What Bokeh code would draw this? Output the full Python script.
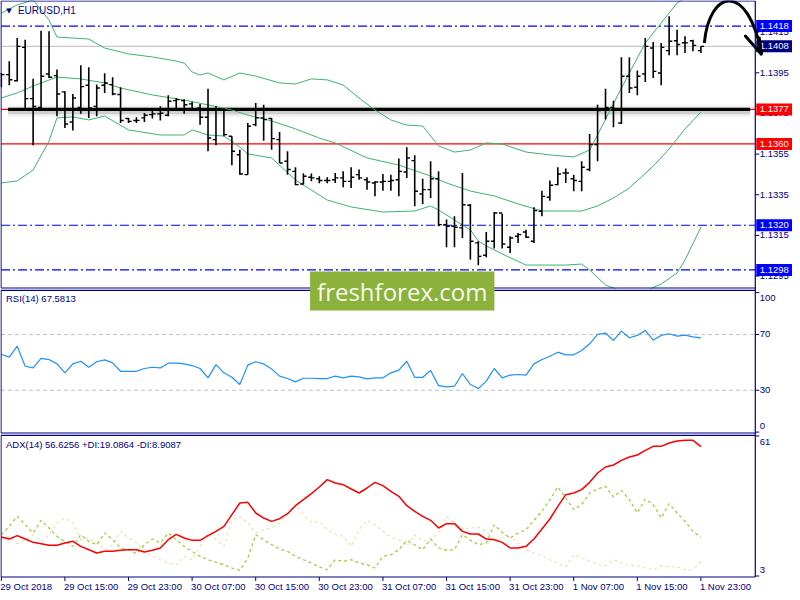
import numpy as np
from bokeh.plotting import figure
from bokeh.models import Range1d, Label
from bokeh.embed import file_html
from bokeh.resources import INLINE
from bokeh.core.properties import value

# ---------------- data (EURUSD H1) ----------------
open_ = [1.13946, 1.13941, 1.13911, 1.14075, 1.13823, 1.13780, 1.13944, 1.13936, 1.13856, 1.13708,
         1.13780, 1.13889, 1.13785, 1.13889, 1.13892, 1.13843, 1.13725, 1.13715, 1.13728, 1.13744,
         1.13748, 1.13741, 1.13813, 1.13813, 1.13797, 1.13777, 1.13731, 1.13621, 1.13769, 1.13638,
         1.13547, 1.13449, 1.13695, 1.13728, 1.13725, 1.13621, 1.13515, 1.13465, 1.13403, 1.13436,
         1.13429, 1.13420, 1.13424, 1.13433, 1.13416, 1.13449, 1.13424, 1.13408, 1.13413, 1.13416,
         1.13424, 1.13462, 1.13518, 1.13354, 1.13375, 1.13429, 1.13203, 1.13195, 1.13187, 1.13298,
         1.13113, 1.13052, 1.13121, 1.13260, 1.13092, 1.13146, 1.13167, 1.13121, 1.13269, 1.13338,
         1.13400, 1.13457, 1.13429, 1.13416, 1.13474, 1.13597, 1.13769, 1.13780, 1.13703, 1.13933,
         1.13879, 1.13944, 1.14072, 1.13949, 1.14059, 1.14108, 1.14098, 1.14108, 1.14059]
high = [1.13949, 1.14007, 1.14121, 1.14112, 1.13921, 1.14157, 1.14154, 1.13966, 1.13859, 1.13846,
        1.13987, 1.13977, 1.13892, 1.13948, 1.13928, 1.13879, 1.13728, 1.13731, 1.13752, 1.13777,
        1.13785, 1.13839, 1.13826, 1.13820, 1.13807, 1.13797, 1.13872, 1.13785, 1.13777, 1.13638,
        1.13572, 1.13703, 1.13802, 1.13793, 1.13728, 1.13659, 1.13564, 1.13485, 1.13456, 1.13454,
        1.13441, 1.13436, 1.13457, 1.13465, 1.13485, 1.13474, 1.13436, 1.13416, 1.13452, 1.13449,
        1.13528, 1.13584, 1.13544, 1.13429, 1.13515, 1.13465, 1.13228, 1.13244, 1.13457, 1.13305,
        1.13121, 1.13167, 1.13265, 1.13256, 1.13146, 1.13162, 1.13178, 1.13288, 1.13370, 1.13420,
        1.13485, 1.13479, 1.13449, 1.13515, 1.13649, 1.13793, 1.13872, 1.13813, 1.14026, 1.14026,
        1.13961, 1.14121, 1.14102, 1.14097, 1.14228, 1.14162, 1.14130, 1.14113, 1.14080]
low = [1.13879, 1.13889, 1.13908, 1.13774, 1.13593, 1.13777, 1.13925, 1.13736, 1.13679, 1.13666,
       1.13748, 1.13728, 1.13736, 1.13851, 1.13839, 1.13703, 1.13703, 1.13703, 1.13708, 1.13725,
       1.13715, 1.13736, 1.13777, 1.13748, 1.13764, 1.13695, 1.13564, 1.13593, 1.13638, 1.13495,
       1.13449, 1.13449, 1.13687, 1.13616, 1.13572, 1.13506, 1.13449, 1.13397, 1.13400, 1.13416,
       1.13406, 1.13406, 1.13408, 1.13387, 1.13383, 1.13424, 1.13375, 1.13342, 1.13370, 1.13370,
       1.13342, 1.13433, 1.13293, 1.13305, 1.13334, 1.13195, 1.13092, 1.13092, 1.13137, 1.13031,
       1.13003, 1.13042, 1.13085, 1.13085, 1.13064, 1.13113, 1.13137, 1.13113, 1.13244, 1.13321,
       1.13397, 1.13408, 1.13367, 1.13367, 1.13465, 1.13515, 1.13720, 1.13682, 1.13698, 1.13851,
       1.13839, 1.13905, 1.13925, 1.13889, 1.14036, 1.14036, 1.14048, 1.14056, 1.14048]
close = [1.13941, 1.13916, 1.14080, 1.13823, 1.13784, 1.13933, 1.13928, 1.13846, 1.13698, 1.13826,
         1.13882, 1.13777, 1.13875, 1.13900, 1.13846, 1.13715, 1.13711, 1.13716, 1.13741, 1.13748,
         1.13751, 1.13810, 1.13818, 1.13793, 1.13770, 1.13731, 1.13629, 1.13769, 1.13646, 1.13564,
         1.13452, 1.13687, 1.13728, 1.13720, 1.13626, 1.13506, 1.13474, 1.13400, 1.13441, 1.13433,
         1.13420, 1.13420, 1.13433, 1.13416, 1.13436, 1.13433, 1.13413, 1.13413, 1.13416, 1.13420,
         1.13465, 1.13531, 1.13367, 1.13375, 1.13429, 1.13203, 1.13195, 1.13190, 1.13301, 1.13121,
         1.13047, 1.13121, 1.13260, 1.13108, 1.13137, 1.13154, 1.13141, 1.13272, 1.13342, 1.13397,
         1.13452, 1.13457, 1.13420, 1.13485, 1.13597, 1.13764, 1.13780, 1.13769, 1.13933, 1.13875,
         1.13933, 1.14080, 1.13957, 1.14075, 1.14105, 1.14089, 1.14097, 1.14085, 1.14080]

# Bollinger bands (read at selected bars)
upper_idx = [0, 2, 4, 6, 7, 9, 11, 13, 16, 19, 22, 23, 24, 25, 26, 28, 30, 32, 35, 37, 39, 41, 43, 45,
             47, 49, 51, 53, 55, 57, 59, 61, 63, 66, 69, 72, 74, 75, 78, 81, 84, 85, 86, 88]
upper = [1.14244, 1.14284, 1.14308, 1.14210, 1.14126, 1.14121, 1.14116, 1.14072, 1.14043, 1.14028,
         1.14008, 1.13998, 1.13954, 1.13939, 1.13949, 1.13915, 1.13949, 1.13934, 1.13900, 1.13895,
         1.13920, 1.13915, 1.13890, 1.13826, 1.13767, 1.13718, 1.13693, 1.13688, 1.13590, 1.13560,
         1.13570, 1.13605, 1.13600, 1.13560, 1.13546, 1.13536, 1.13570, 1.13644, 1.13875, 1.14097,
         1.14244, 1.14293, 1.14318, 1.14416]
middle_idx = [0, 2, 4, 7, 10, 13, 15, 19, 23, 26, 29, 31, 34, 37, 40, 42, 46, 50, 54, 56, 59, 62,
              65, 68, 73, 75, 77, 79, 82, 84, 86, 88]
middle = [1.13826, 1.13851, 1.13885, 1.13929, 1.13920, 1.13900, 1.13875, 1.13841, 1.13816, 1.13792,
          1.13767, 1.13742, 1.13713, 1.13674, 1.13629, 1.13605, 1.13531, 1.13496, 1.13442, 1.13408,
          1.13368, 1.13344, 1.13305, 1.13270, 1.13270, 1.13295, 1.13334, 1.13383, 1.13491, 1.13575,
          1.13674, 1.13757]
lower_idx = [0, 2, 4, 6, 7, 9, 11, 13, 16, 20, 23, 24, 26, 28, 30, 31, 34, 37, 39, 41, 44, 48, 52,
             54, 55, 59, 60, 61, 63, 66, 71, 73, 74, 76, 78, 81, 83, 85, 86, 88]
lower = [1.13408, 1.13418, 1.13472, 1.13614, 1.13728, 1.13733, 1.13718, 1.13737, 1.13669, 1.13644,
         1.13644, 1.13669, 1.13644, 1.13639, 1.13585, 1.13551, 1.13531, 1.13423, 1.13373, 1.13324,
         1.13290, 1.13265, 1.13270, 1.13295, 1.13275, 1.13177, 1.13122, 1.13098, 1.13059, 1.13004,
         1.13004, 1.13009, 1.12980, 1.12906, 1.12876, 1.12876, 1.12911, 1.12965, 1.13029, 1.13191]

rsi = [55.6, 53.7, 61.6, 47.2, 46.0, 52.8, 52.0, 48.9, 42.5, 48.9,
       50.8, 46.5, 50.4, 51.8, 49.6, 43.6, 43.6, 43.6, 45.6, 46.5,
       46.0, 49.4, 49.4, 48.9, 47.7, 45.6, 38.9, 48.4, 42.5, 39.3,
       34.1, 48.0, 50.4, 48.9, 45.3, 40.1, 38.4, 36.0, 38.6, 38.6,
       38.4, 38.4, 40.1, 38.9, 40.1, 39.6, 38.1, 38.9, 38.9, 42.5,
       44.4, 50.8, 39.3, 39.3, 44.1, 33.3, 32.4, 32.9, 42.0, 34.1,
       31.2, 36.5, 45.6, 38.9, 40.8, 41.3, 40.8, 48.9, 52.0, 54.4,
       57.3, 55.4, 55.4, 58.5, 63.3, 70.0, 71.0, 65.7, 72.4, 67.6,
       69.3, 72.9, 66.0, 69.3, 70.5, 68.8, 69.5, 68.3, 67.58]
adx = [19.15, 18.32, 19.71, 18.32, 16.94, 16.39, 15.70, 15.70, 16.67, 17.36,
       15.29, 13.90, 12.52, 13.21, 13.21, 13.63, 13.90, 13.90, 12.94, 13.63,
       14.60, 18.05, 20.26, 18.74, 17.77, 17.77, 19.71, 21.50, 23.57, 28.41,
       33.24, 33.52, 29.10, 27.02, 25.64, 26.75, 28.82, 32.13, 34.62, 37.11,
       39.87, 42.91, 41.52, 40.83, 39.04, 37.38, 39.45, 41.80, 40.42, 38.07,
       36.00, 32.13, 29.79, 27.71, 26.06, 22.88, 24.68, 24.68, 21.50, 20.40,
       20.40, 18.32, 18.05, 16.94, 14.60, 14.60, 15.29, 18.32, 22.47, 26.61,
       31.86, 36.69, 37.38, 38.76, 41.80, 45.67, 48.15, 48.98, 50.92, 52.30,
       53.13, 55.06, 56.72, 56.72, 58.10, 58.93, 59.20, 59.20, 56.63]
plus_di = [20.12, 23.57, 27.71, 24.26, 20.81, 26.06, 22.88, 19.43, 17.36, 15.29,
           20.12, 17.36, 15.98, 20.81, 18.05, 14.60, 13.90, 12.25, 15.98, 18.32,
           16.67, 20.81, 18.05, 15.29, 13.21, 11.14, 9.76, 8.66, 7.69, 6.31,
           5.34, 10.45, 20.12, 18.05, 15.98, 14.18, 13.21, 11.14, 9.76, 8.38,
           6.72, 5.62, 9.76, 9.07, 9.76, 8.38, 7.69, 6.31, 11.14, 11.83,
           13.90, 17.77, 15.98, 13.90, 18.32, 14.60, 13.63, 13.90, 20.12, 17.77,
           15.98, 16.67, 24.26, 21.09, 18.74, 20.81, 22.19, 26.06, 29.79, 34.62,
           39.87, 35.31, 30.48, 32.55, 37.38, 39.04, 40.14, 35.72, 38.49, 34.62,
           29.10, 34.90, 32.55, 27.02, 32.96, 29.10, 25.64, 21.50, 19.09]
minus_di = [18.05, 19.43, 16.39, 18.05, 20.12, 17.36, 20.12, 24.95, 27.02, 24.95,
            18.05, 18.74, 16.67, 13.90, 15.98, 21.50, 18.74, 16.67, 13.21, 11.14,
            9.76, 8.38, 7.69, 11.14, 9.76, 15.29, 20.81, 18.05, 15.29, 26.33,
            27.71, 24.95, 20.81, 22.19, 22.88, 24.95, 29.10, 32.55, 28.41, 25.23,
            25.64, 22.19, 20.12, 19.43, 15.29, 22.19, 26.06, 24.26, 21.50, 19.15,
            18.05, 15.29, 20.12, 17.36, 18.32, 20.81, 27.71, 24.95, 22.19, 22.88,
            23.30, 21.50, 17.77, 18.74, 19.43, 16.67, 13.90, 12.52, 11.42, 9.76,
            8.10, 6.72, 11.83, 10.45, 9.07, 7.69, 7.28, 9.76, 8.38, 7.28,
            7.28, 6.31, 5.62, 7.28, 6.72, 6.72, 5.62, 5.62, 8.91]

price_ticks = [1.1295, 1.1315, 1.1335, 1.1355, 1.1375, 1.1395, 1.1415]
rsi_ticks = [0, 30, 70, 100]
adx_ticks = [3, 61]
date_ticks = [0, 8, 16, 24, 32, 40, 48, 56, 64, 72, 80, 88]
date_labels = ["29 Oct 2018", "29 Oct 15:00", "29 Oct 23:00", "30 Oct 07:00", "30 Oct 15:00",
               "30 Oct 23:00", "31 Oct 07:00", "31 Oct 15:00", "31 Oct 23:00", "1 Nov 07:00",
               "1 Nov 15:00", "1 Nov 23:00"]
# horizontal levels: price, line colour, dash, label background
level_price = [1.1418, 1.1408, 1.1377, 1.1360, 1.1320, 1.1298]
level_color = ["#0000FF", "#C8C8C8", "#FF0000", "#FF0000", "#0000FF", "#0000FF"]
level_dash = ["9 3 2 3", "solid", "solid", "solid", "9 3 2 3", "9 3 2 3"]
level_bg = ["#0000FF", "#000080", "#FF0000", "#FF0000", "#0000FF", "#0000FF"]
black_level = 1.1377
black_from, black_to = 0.85, 94.2
rsi_levels = [30, 70]
# hand drawn arrow (bar index, price)
arrow_curve = [(88.43, 1.140966), (89.09, 1.143672), (93.96, 1.143918), (95.59, 1.140474)]
arrow_head = [((93.59, 1.141310), (95.59, 1.140425)), ((95.34, 1.141212), (95.59, 1.140425))]
rsi_text = "RSI(14) 67.5813"
adx_text = "ADX(14) 56.6256 +DI:19.0864 -DI:8.9087"

# ---------------- layout helpers (reference pixel -> data) ----------------
NAVY = "#000080"
SMALL = value("Liberation Sans")
FS = "9.5px"
K = 7.95
FIG_W, FIG_H = 792, 592
TOP_PX, BOT_PX = 2.5, 594.5
LB = -0.04
X0 = LB - 0.5 / K
X1 = X0 + FIG_W / K
AXIS = 94.84
PPX = 0.0000492


def ix(px):
    return (px - 3.3) / 8.0


def y_main(py):
    return 1.14318 - PPX * py


def y_rsi(py):
    return (434.1 - py) / 1.395


def y_adx(py):
    return 3 + (578 - py) / 2.414


p = figure(frame_width=FIG_W, frame_height=FIG_H, x_range=Range1d(X0, X1),
           y_range=Range1d(y_main(BOT_PX), y_main(TOP_PX)), output_backend="svg",
           toolbar_location=None, x_axis_location=None, y_axis_location=None,
           min_border=0, outline_line_color=None,
           background_fill_color="white", border_fill_color="white")
p.extra_y_ranges = {"rsi": Range1d(y_rsi(BOT_PX), y_rsi(TOP_PX)),
                    "adx": Range1d(y_adx(BOT_PX), y_adx(TOP_PX))}
p.grid.visible = False


def panel_frame(fy, top_b, bot_b, rn="default"):
    yt, yb = fy(top_b), fy(bot_b)
    p.segment(x0=[LB, LB, LB], y0=[yt, yb, yb], x1=[AXIS, AXIS, LB], y1=[yt, yb, yt],
              line_color=NAVY, line_width=1.2, y_range_name=rn)


def axis_ticks(ticks, labels, rn="default", offsets=None):
    n = len(ticks)
    p.segment(x0=[AXIS] * n, y0=ticks, x1=[ix(766)] * n, y1=ticks, line_color=NAVY,
              line_width=1, y_range_name=rn)
    p.text(x=[ix(766.5)] * n, y=ticks, text=labels, text_color=NAVY, text_font=SMALL,
           text_font_size=FS, text_baseline="middle", text_align="left",
           y_offset=offsets if offsets is not None else [0] * n, y_range_name=rn)


idx = np.arange(len(close))

# ---------------- main price panel ----------------
axis_ticks(price_ticks, [f"{t:.4f}" for t in price_ticks])

for lv, col, dash in zip(level_price, level_color, level_dash):
    p.segment(x0=[LB], y0=[lv], x1=[AXIS], y1=[lv], line_color=col, line_dash=dash, line_width=1.2)

sh = 1.5 * PPX
for w, a in [(13, 0.035), (9, 0.06), (6, 0.10)]:
    p.segment(x0=[black_from], y0=[black_level - sh], x1=[black_to], y1=[black_level - sh],
              line_color="black", line_alpha=a, line_width=w)
p.segment(x0=[black_from], y0=[black_level], x1=[black_to], y1=[black_level],
          line_color="black", line_width=3.2)

for xs, ys in [(upper_idx, upper), (middle_idx, middle), (lower_idx, lower)]:
    p.line(xs, ys, line_color="#3CB371", line_width=1)

p.segment(x0=idx, y0=low, x1=idx, y1=high, line_color="black", line_width=1.6)
p.segment(x0=idx - 0.4, y0=open_, x1=idx, y1=open_, line_color="black", line_width=1.4)
p.segment(x0=idx, y0=close, x1=idx + 0.4, y1=close, line_color="black", line_width=1.4)

# white strip between the price panel and the RSI panel
p.quad(left=[X0], right=[AXIS], bottom=[y_main(297)], top=[y_main(290.6)],
       fill_color="white", line_color=None)

hb = 6 * PPX
for lv, bg in zip(level_price, level_bg):
    p.quad(left=[ix(763)], right=[X1], bottom=[lv - hb], top=[lv + hb], fill_color=bg, line_color=None)
p.text(x=[ix(766.5)] * len(level_price), y=level_price, text=[f"{lv:.4f}" for lv in level_price],
       text_color="white", text_font=SMALL, text_font_size=FS, text_baseline="middle",
       text_align="left")

(a0, a1, a2, a3) = arrow_curve
p.bezier(x0=[a0[0]], y0=[a0[1]], cx0=[a1[0]], cy0=[a1[1]], cx1=[a2[0]], cy1=[a2[1]],
         x1=[a3[0]], y1=[a3[1]], line_color="black", line_width=3)
for (s, e) in arrow_head:
    p.segment(x0=[s[0]], y0=[s[1]], x1=[e[0]], y1=[e[1]], line_color="black", line_width=3,
              line_cap="round")

p.text(x=[ix(11)], y=[y_main(12.5)], text=["▼"], text_color=NAVY, text_font=value("DejaVu Sans"),
       text_font_size="7px", text_baseline="middle", text_align="center")
p.text(x=[ix(20)], y=[y_main(12.5)], text=["EURUSD,H1"], text_color=NAVY, text_font=SMALL,
       text_font_size="10px", text_baseline="middle", text_align="left")

# ---------------- RSI panel ----------------
axis_ticks(rsi_ticks, [str(t) for t in rsi_ticks], "rsi", offsets=[-6, 0, 0, 5])
for lv in rsi_levels:
    p.segment(x0=[LB], y0=[lv], x1=[AXIS], y1=[lv], line_color="#C0C0C0", line_dash="4 3",
              line_width=1, y_range_name="rsi")
p.line(idx, rsi, line_color="#1E90FF", line_width=1.2, y_range_name="rsi")
p.text(x=[ix(8)], y=[y_rsi(300.5)], text=[rsi_text], text_color=NAVY, text_font=SMALL,
       text_font_size=FS, text_baseline="middle", text_align="left", y_range_name="rsi")

# ---------------- ADX panel ----------------
axis_ticks(adx_ticks, [str(t) for t in adx_ticks], "adx", offsets=[-6, 6])
p.line(idx, minus_di, line_color="#F5DEB3", line_width=1.2, line_dash="3 3", y_range_name="adx")
p.line(idx, plus_di, line_color="#9ACD32", line_width=1.2, line_dash="3 3", y_range_name="adx")
p.line(idx, adx, line_color="#FF0000", line_width=1.5, y_range_name="adx")
p.text(x=[ix(8)], y=[y_adx(446)], text=[adx_text], text_color=NAVY, text_font=SMALL,
       text_font_size=FS, text_baseline="middle", text_align="left", y_range_name="adx")
nd = len(date_ticks)
p.segment(x0=date_ticks, y0=[y_adx(579)] * nd, x1=date_ticks, y1=[y_adx(583)] * nd,
          line_color=NAVY, line_width=1, y_range_name="adx")
p.text(x=date_ticks, y=[y_adx(588.5)] * nd, text=date_labels, text_color=NAVY, text_font=SMALL,
       text_font_size=FS, text_baseline="middle", text_align="left", x_offset=[-1] * nd,
       y_range_name="adx")

# ---------------- panel frames and price scale line ----------------
panel_frame(y_main, 3, 290)
panel_frame(y_rsi, 292.3, 435, "rsi")
panel_frame(y_adx, 437.3, 579, "adx")
p.segment(x0=[AXIS], y0=[y_main(3)], x1=[AXIS], y1=[y_main(579)], line_color=NAVY, line_width=1.2)

# watermark
p.add_layout(Label(x=ix(314), y=y_main(293), text="freshforex.com", text_color="white",
                   text_alpha=0.95, text_font="Open Sans", text_font_size="24px",
                   text_baseline="middle", text_align="left", background_fill_color="#8CB23B",
                   padding=dict(left=7, right=7, top=3, bottom=3)))

open("out.html", "w").write(file_html(p, INLINE))
